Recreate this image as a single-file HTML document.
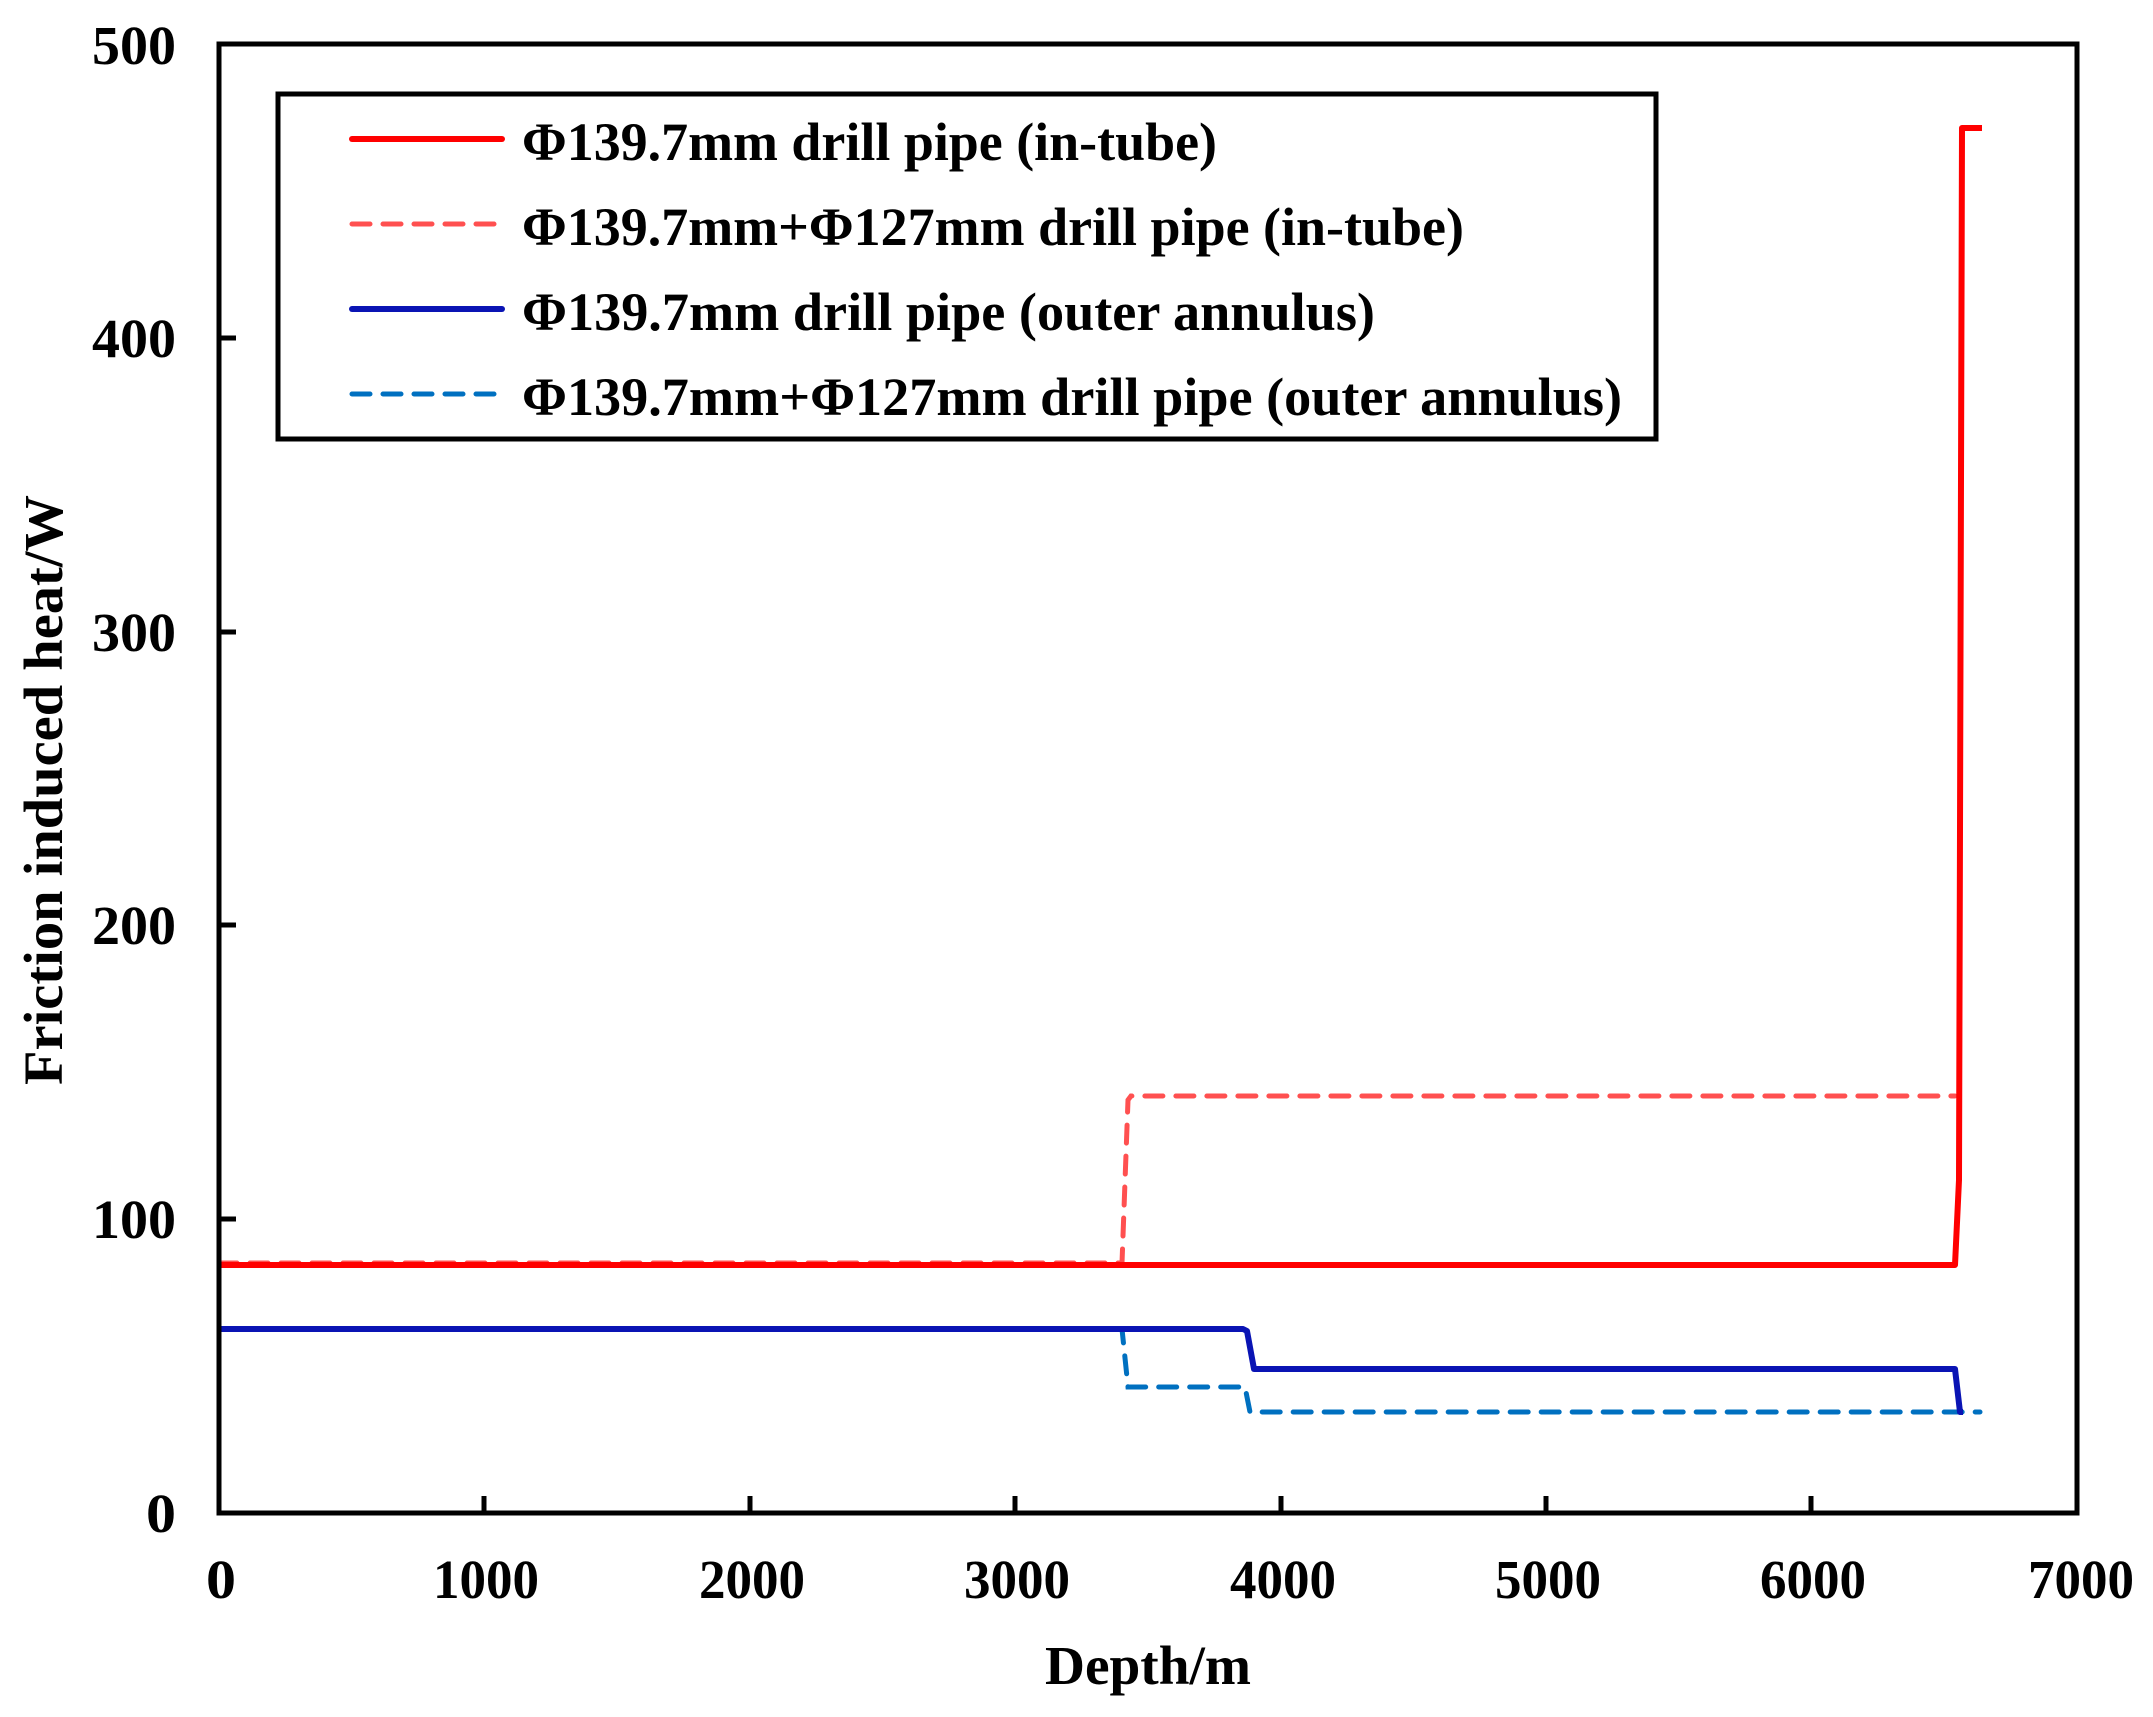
<!DOCTYPE html>
<html><head><meta charset="utf-8"><style>html,body{margin:0;padding:0;background:#fff}svg{display:block}</style></head>
<body>
<svg width="2153" height="1717" viewBox="0 0 2153 1717" xmlns="http://www.w3.org/2000/svg" font-family="Liberation Serif, serif" font-weight="bold">
<rect width="2153" height="1717" fill="#fff"/>
<!-- series -->
<polyline fill="none" stroke="#0070c0" stroke-width="5" stroke-dasharray="18,13" stroke-linecap="round" points="219,1329 1122,1329 1128,1387 1245,1387 1250,1412 1256,1412 1980,1412"/>
<polyline fill="none" stroke="#0a14b4" stroke-width="6" stroke-linejoin="round" points="219,1329 1243,1329 1247,1331 1254,1369 1258,1369 1955,1369 1960,1412 1963,1412"/>
<polyline fill="none" stroke="#ff5050" stroke-width="5" stroke-dasharray="18,13" stroke-linecap="round" points="219,1263 1122,1263 1128,1100 1131,1096 1955,1096"/>
<polyline fill="none" stroke="#ff0000" stroke-width="6" stroke-linejoin="round" points="219,1265 1955,1265 1959,1180 1962,128 1982,128"/>
<!-- axes -->
<rect x="219" y="44" width="1858" height="1469" fill="none" stroke="#000" stroke-width="5"/>
<g stroke="#000" stroke-width="5">
<line x1="219" y1="1219" x2="236" y2="1219"/>
<line x1="219" y1="925" x2="236" y2="925"/>
<line x1="219" y1="632" x2="236" y2="632"/>
<line x1="219" y1="338" x2="236" y2="338"/>
<line x1="484" y1="1513" x2="484" y2="1496"/>
<line x1="750" y1="1513" x2="750" y2="1496"/>
<line x1="1015" y1="1513" x2="1015" y2="1496"/>
<line x1="1281" y1="1513" x2="1281" y2="1496"/>
<line x1="1546" y1="1513" x2="1546" y2="1496"/>
<line x1="1811" y1="1513" x2="1811" y2="1496"/>
</g>
<g font-size="55" text-anchor="end" fill="#000">
<text x="176" y="1532" textLength="30" lengthAdjust="spacingAndGlyphs">0</text>
<text x="176" y="1238" textLength="84" lengthAdjust="spacingAndGlyphs">100</text>
<text x="176" y="944" textLength="84" lengthAdjust="spacingAndGlyphs">200</text>
<text x="176" y="651" textLength="84" lengthAdjust="spacingAndGlyphs">300</text>
<text x="176" y="357" textLength="84" lengthAdjust="spacingAndGlyphs">400</text>
<text x="176" y="64" textLength="84" lengthAdjust="spacingAndGlyphs">500</text>
</g>
<g font-size="55" text-anchor="middle" fill="#000">
<text x="221" y="1598" textLength="30" lengthAdjust="spacingAndGlyphs">0</text>
<text x="486" y="1598" textLength="106" lengthAdjust="spacingAndGlyphs">1000</text>
<text x="752" y="1598" textLength="106" lengthAdjust="spacingAndGlyphs">2000</text>
<text x="1017" y="1598" textLength="106" lengthAdjust="spacingAndGlyphs">3000</text>
<text x="1283" y="1598" textLength="106" lengthAdjust="spacingAndGlyphs">4000</text>
<text x="1548" y="1598" textLength="106" lengthAdjust="spacingAndGlyphs">5000</text>
<text x="1813" y="1598" textLength="106" lengthAdjust="spacingAndGlyphs">6000</text>
<text x="2081" y="1598" textLength="106" lengthAdjust="spacingAndGlyphs">7000</text>
</g>
<text x="1148" y="1684" font-size="55" text-anchor="middle" textLength="206" lengthAdjust="spacingAndGlyphs">Depth/m</text>
<text transform="translate(62,790) rotate(-90)" font-size="55" text-anchor="middle" textLength="590" lengthAdjust="spacingAndGlyphs">Friction induced  heat/W</text>
<!-- legend -->
<rect x="278" y="94" width="1378" height="345" fill="#fff" stroke="#000" stroke-width="5"/>
<line x1="352" y1="139" x2="502" y2="139" stroke="#ff0000" stroke-width="6" stroke-linecap="round"/>
<line x1="352" y1="224" x2="502" y2="224" stroke="#ff5050" stroke-width="5" stroke-dasharray="18,13" stroke-linecap="round"/>
<line x1="352" y1="309" x2="502" y2="309" stroke="#0a14b4" stroke-width="6" stroke-linecap="round"/>
<line x1="352" y1="394" x2="502" y2="394" stroke="#0070c0" stroke-width="5" stroke-dasharray="18,13" stroke-linecap="round"/>
<g font-size="54" fill="#000">
<text x="522" y="160" textLength="695" lengthAdjust="spacingAndGlyphs">Φ139.7mm drill pipe (in-tube)</text>
<text x="522" y="245" textLength="942" lengthAdjust="spacingAndGlyphs">Φ139.7mm+Φ127mm drill pipe (in-tube)</text>
<text x="522" y="330" textLength="853" lengthAdjust="spacingAndGlyphs">Φ139.7mm drill pipe (outer annulus)</text>
<text x="522" y="415" textLength="1100" lengthAdjust="spacingAndGlyphs">Φ139.7mm+Φ127mm drill pipe (outer annulus)</text>
</g>
</svg>
</body></html>
